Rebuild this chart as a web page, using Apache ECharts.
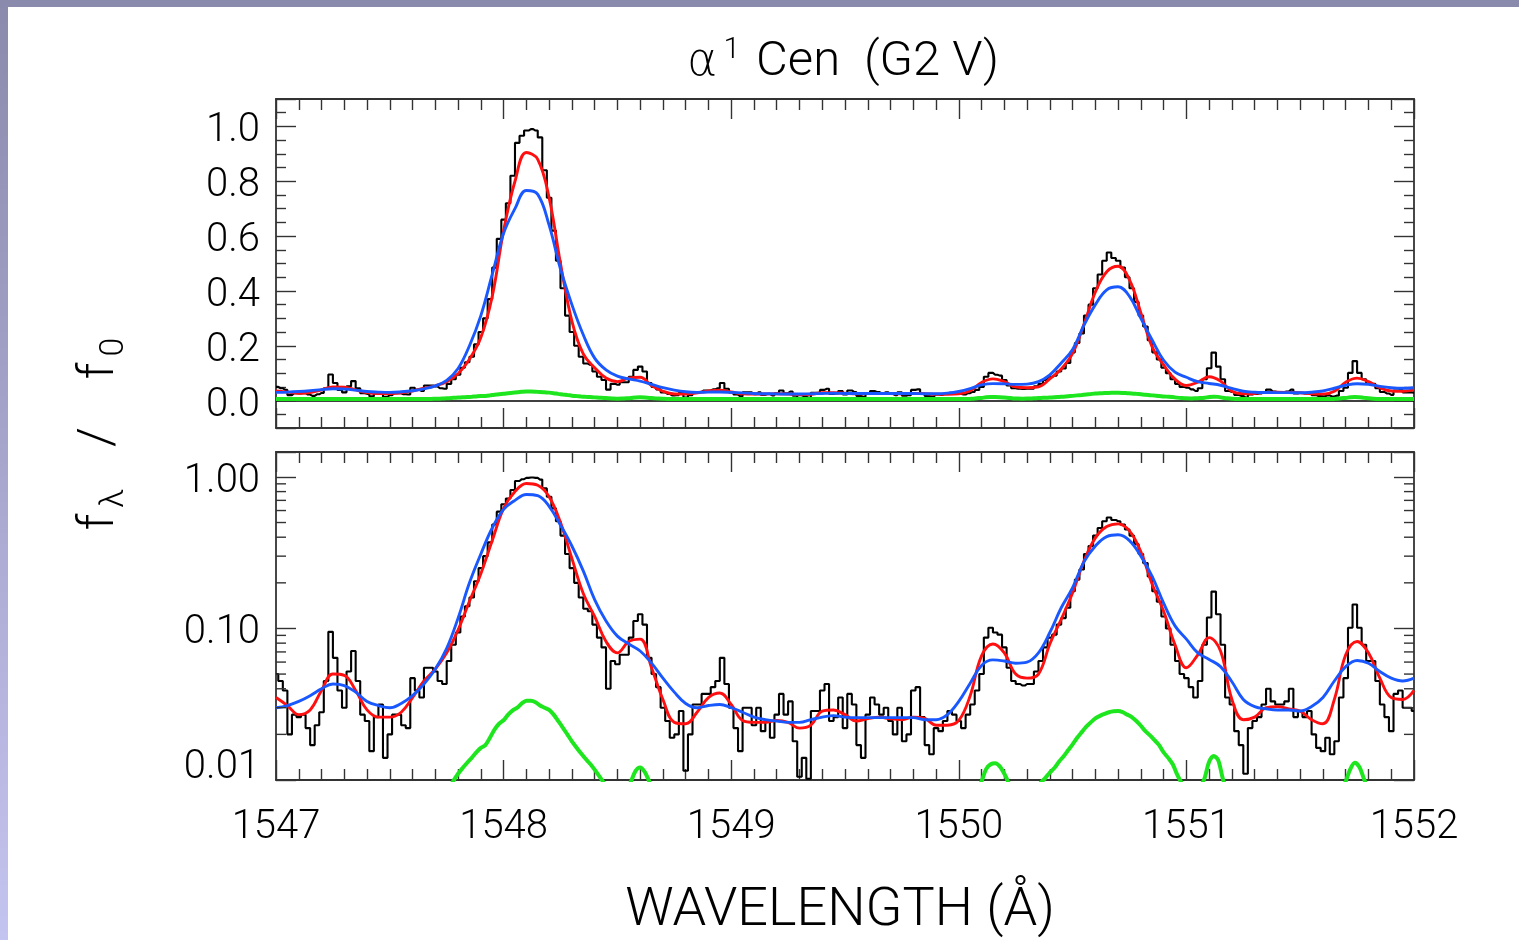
<!DOCTYPE html>
<html><head><meta charset="utf-8">
<script src="https://cdn.jsdelivr.net/npm/echarts@6/dist/echarts.min.js"></script>
<style>
html,body{margin:0;padding:0;width:1519px;height:940px;overflow:hidden;background:#fff;}
#chart{position:absolute;left:0;top:0;width:1519px;height:940px;}
#topbar{position:absolute;left:0;top:0;width:1519px;height:7px;background:#8a8aac;}
#leftbar{position:absolute;left:0;top:0;width:8px;height:940px;background:linear-gradient(#8a8aac,#c4c4f0);}
</style></head>
<body>
<div id="chart"></div><div id="topbar"></div><div id="leftbar"></div>
<script>
// ---------------- DATA ----------------
// Observed spectrum (black), sampled every 0.02 A from 1547.00 to 1552.00
const black = [
  0.050,0.045,0.039,0.020,0.027,0.026,0.027,0.022,0.017,0.023,   // 1547.00
  0.028,0.045,0.095,0.064,0.039,0.030,0.052,0.071,0.045,0.027,   // 1547.20
  0.0245,0.0155,0.026,0.0315,0.014,0.020,0.027,0.027,0.023,0.022,// 1547.40
  0.047,0.039,0.035,0.055,0.055,0.052,0.045,0.043,0.061,0.078,   // 1547.60
  0.094,0.12,0.14,0.16,0.205,0.25,0.30,0.37,0.485,0.59,          // 1547.80
  0.66,0.72,0.82,0.94,0.966,0.985,0.99,0.985,0.96,0.84,          // 1548.00
  0.74,0.62,0.51,0.41,0.31,0.25,0.20,0.16,0.135,0.13,            // 1548.20
  0.106,0.087,0.075,0.04,0.061,0.058,0.067,0.067,0.087,0.112,    // 1548.40
  0.124,0.106,0.064,0.050,0.041,0.030,0.0245,0.019,0.020,0.0285, // 1548.60
  0.0115,0.020,0.0315,0.0315,0.037,0.037,0.041,0.045,0.064,0.043,// 1548.80
  0.030,0.022,0.0155,0.030,0.030,0.023,0.030,0.021,0.0245,0.019, // 1549.00
  0.027,0.037,0.027,0.033,0.018,0.0105,0.014,0.0102,0.0285,0.0285,// 1549.20
  0.039,0.043,0.0245,0.026,0.035,0.022,0.037,0.0315,0.017,0.014, // 1549.40
  0.027,0.035,0.0315,0.027,0.030,0.0245,0.020,0.030,0.018,0.020, // 1549.60
  0.039,0.041,0.026,0.017,0.0148,0.022,0.021,0.0245,0.0285,0.027,// 1549.80
  0.0245,0.022,0.027,0.0315,0.039,0.050,0.087,0.101,0.094,0.091, // 1550.00
  0.075,0.055,0.045,0.043,0.042,0.043,0.043,0.052,0.061,0.075,   // 1550.20
  0.087,0.091,0.106,0.117,0.137,0.176,0.21,0.245,0.31,0.35,      // 1550.40
  0.41,0.46,0.51,0.54,0.52,0.51,0.485,0.45,0.41,0.36,            // 1550.60
  0.31,0.27,0.22,0.176,0.15,0.12,0.10,0.078,0.061,0.050,         // 1550.80
  0.047,0.041,0.035,0.045,0.078,0.118,0.175,0.124,0.078,0.035,   // 1551.00
  0.0315,0.021,0.017,0.011,0.022,0.0245,0.026,0.0315,0.040,0.033,// 1551.20
  0.0315,0.0315,0.033,0.040,0.026,0.0285,0.026,0.0285,0.020,0.0163,// 1551.40
  0.0155,0.019,0.0148,0.018,0.035,0.047,0.101,0.144,0.101,0.078, // 1551.60
  0.061,0.061,0.045,0.0315,0.026,0.021,0.037,0.039,0.030,0.030,  // 1551.80
  0.0285                                                          // 1552.00
];
// Narrow component (green), sampled every 0.02 A
const green = [
  0.006,0.006,0.006,0.006,0.006,0.006,0.006,0.006,0.006,0.006,   // 1547.00
  0.006,0.006,0.006,0.006,0.006,0.006,0.006,0.006,0.006,0.006,   // 1547.20
  0.006,0.006,0.006,0.006,0.006,0.006,0.006,0.006,0.006,0.006,   // 1547.40
  0.006,0.006,0.006,0.006,0.006,0.0065,0.007,0.0078,0.0088,0.0099,// 1547.60
  0.011,0.012,0.013,0.014,0.0152,0.0163,0.017,0.019,0.0215,0.0235,// 1547.80
  0.0248,0.027,0.0288,0.030,0.032,0.0333,0.0333,0.0326,0.031,0.030,// 1548.00
  0.029,0.027,0.0245,0.0222,0.020,0.018,0.0164,0.015,0.0138,0.0128,// 1548.20
  0.0117,0.0106,0.0096,0.0085,0.0075,0.007,0.0075,0.0085,0.0098,0.0115,// 1548.40
  0.0121,0.0113,0.0098,0.0085,0.0072,0.0065,0.006,0.006,0.006,0.006,// 1548.60
  0.006,0.006,0.006,0.006,0.006,0.006,0.006,0.006,0.006,0.006,   // 1548.80
  0.006,0.006,0.006,0.006,0.006,0.006,0.006,0.006,0.006,0.006,   // 1549.00
  0.006,0.006,0.006,0.006,0.006,0.006,0.006,0.006,0.006,0.006,   // 1549.20
  0.006,0.006,0.006,0.006,0.006,0.006,0.006,0.006,0.006,0.006,   // 1549.40
  0.006,0.006,0.006,0.006,0.006,0.006,0.006,0.006,0.006,0.006,   // 1549.60
  0.006,0.006,0.006,0.006,0.006,0.006,0.006,0.006,0.006,0.006,   // 1549.80
  0.006,0.006,0.006,0.007,0.0085,0.0098,0.0118,0.0127,0.0129,0.0123,// 1550.00
  0.011,0.0095,0.008,0.0072,0.007,0.0072,0.008,0.0088,0.0096,0.0103,// 1550.20
  0.0112,0.012,0.0132,0.0143,0.0157,0.0172,0.019,0.0207,0.0225,0.024,// 1550.40
  0.0255,0.0265,0.0273,0.028,0.0284,0.0285,0.028,0.027,0.026,0.0245,// 1550.60
  0.0228,0.021,0.0197,0.0183,0.017,0.0152,0.014,0.0127,0.0108,0.0095,// 1550.80
  0.0085,0.008,0.0082,0.009,0.0103,0.0132,0.0144,0.0135,0.0102,0.0085,// 1551.00
  0.007,0.006,0.006,0.006,0.006,0.006,0.006,0.006,0.006,0.006,   // 1551.20
  0.006,0.006,0.006,0.006,0.006,0.006,0.006,0.006,0.006,0.006,   // 1551.40
  0.006,0.006,0.006,0.007,0.0085,0.0098,0.0118,0.013,0.0122,0.0102,// 1551.60
  0.0085,0.007,0.006,0.006,0.006,0.006,0.006,0.006,0.006,0.006,  // 1551.80
  0.006                                                           // 1552.00
];
// Model fits, sampled every 0.05 A from 1547.00 to 1552.00
const red = [
  0.035,0.031,0.027,0.029,0.039,0.050,0.049,0.039,0.029,0.026,   // 1547.00
  0.026,0.028,0.035,0.045,0.054,0.069,0.098,0.151,0.23,0.38,     // 1547.50
  0.62,0.80,0.905,0.88,0.74,0.50,0.29,0.17,0.12,0.082,           // 1548.00
  0.069,0.082,0.085,0.055,0.034,0.024,0.0235,0.028,0.035,0.0375, // 1548.50
  0.0315,0.0247,0.024,0.024,0.0247,0.024,0.022,0.023,0.0285,0.029,// 1549.00
  0.027,0.0245,0.0254,0.026,0.0253,0.025,0.026,0.0255,0.023,0.023,// 1549.50
  0.0247,0.036,0.066,0.079,0.069,0.050,0.047,0.050,0.079,0.115,  // 1550.00
  0.172,0.278,0.396,0.47,0.49,0.44,0.32,0.195,0.13,0.078,        // 1550.50
  0.055,0.067,0.087,0.071,0.034,0.025,0.026,0.030,0.0305,0.0295, // 1551.00
  0.0285,0.025,0.0235,0.034,0.067,0.082,0.069,0.047,0.035,0.034, // 1551.50
  0.039                                                           // 1552.00
];
const blue = [
  0.030,0.031,0.033,0.036,0.040,0.043,0.042,0.038,0.033,0.031,   // 1547.00
  0.030,0.032,0.036,0.043,0.054,0.074,0.117,0.20,0.31,0.46,      // 1547.50
  0.61,0.70,0.766,0.752,0.64,0.48,0.35,0.24,0.155,0.112,         // 1548.00
  0.089,0.079,0.071,0.059,0.047,0.038,0.032,0.030,0.031,0.0315,  // 1548.50
  0.030,0.028,0.026,0.025,0.0245,0.024,0.024,0.025,0.026,0.0266, // 1549.00
  0.026,0.0258,0.0258,0.0258,0.0258,0.0258,0.0258,0.025,0.025,0.027,// 1549.50
  0.033,0.0435,0.057,0.062,0.061,0.059,0.060,0.069,0.094,0.137,  // 1550.00
  0.186,0.275,0.35,0.404,0.415,0.38,0.30,0.22,0.147,0.104,       // 1550.50
  0.085,0.069,0.0625,0.056,0.0445,0.034,0.0305,0.0295,0.029,0.029,// 1551.00
  0.0285,0.0305,0.035,0.045,0.056,0.0615,0.059,0.052,0.047,0.045,// 1551.50
  0.047                                                           // 1552.00
];
const fineStart = 1547, fineStep = 0.02;
const coarseStart = 1547, coarseStep = 0.05;
// Tick labels
const xTickLabels = ['1547','1548','1549','1550','1551','1552'];
const linYTickLabels = ['0.0','0.2','0.4','0.6','0.8','1.0'];
const logYTickLabels = ['0.01','0.10','1.00'];
const logMinorTicks = [0.02,0.03,0.04,0.05,0.06,0.07,0.08,0.09,0.2,0.3,0.4,0.5,0.6,0.7,0.8,0.9];

// ---------------- CHART ----------------
const FONT = 'Roboto, "DejaVu Sans", sans-serif';
const FW = 300;
const AX = '#333';
const fineX = black.map((_, i) => +(fineStart + i * fineStep).toFixed(2));
const coarseX = red.map((_, i) => +(coarseStart + i * coarseStep).toFixed(2));
const pair = (xs, ys) => xs.map((x, i) => [x, ys[i]]);

function matchLabel(list, v) {
  for (const s of list) { if (Math.abs(parseFloat(s) - v) < 1e-6 * Math.max(1, Math.abs(v))) return s; }
  return '';
}
const yRich = {
  sp: { fontSize: 1, lineHeight: 50 },
  v: { fontSize: 40, fontFamily: FONT, fontWeight: FW, color: '#000', lineHeight: 40, verticalAlign: 'bottom' },
  sp2: { fontSize: 1, lineHeight: 64 },
  u: { fontSize: 40, fontFamily: FONT, fontWeight: FW, color: '#000', lineHeight: 40, verticalAlign: 'top' }
};

function xAxisDef(gridIndex, position, showLabels) {
  return {
    type: 'value', gridIndex, position, min: 1547, max: 1552, interval: 1,
    axisLine: { show: true, onZero: false, lineStyle: { color: AX, width: 1.8 } },
    axisTick: { show: true, inside: true, length: 20, lineStyle: { color: AX, width: 1.4 } },
    minorTick: { show: true, splitNumber: 10, length: 11, lineStyle: { color: AX, width: 1.4 } },
    splitLine: { show: false }, minorSplitLine: { show: false },
    axisLabel: { show: showLabels, margin: 28, fontSize: 40, fontFamily: FONT, fontWeight: FW, color: '#000',
      formatter: v => matchLabel(xTickLabels, v) }
  };
}
function linYDef(position, showLabels) {
  return {
    type: 'value', gridIndex: 0, position, min: -0.1, max: 1.1, minInterval: 0.2, maxInterval: 0.2, splitNumber: 6,
    axisLine: { show: true, onZero: false, lineStyle: { color: AX, width: 1.8 } },
    axisTick: { show: true, inside: true, length: 20, lineStyle: { color: AX, width: 1.4 } },
    minorTick: { show: true, splitNumber: 4, length: 10, lineStyle: { color: AX, width: 1.4 } },
    splitLine: { show: false }, minorSplitLine: { show: false },
    axisLabel: { show: showLabels, margin: 16, rich: yRich,
      formatter: v => { const s = matchLabel(linYTickLabels, v); return s ? '{sp| }{v|' + s + '}' : ''; } }
  };
}
function logYDef(position, showLabels) {
  return {
    type: 'log', logBase: 10, gridIndex: 1, position, min: 0.01, max: 1.46,
    axisLine: { show: true, onZero: false, lineStyle: { color: AX, width: 1.8 } },
    axisTick: { show: true, inside: true, length: 20, lineStyle: { color: AX, width: 1.4 } },
    minorTick: { show: false },
    splitLine: { show: false }, minorSplitLine: { show: false },
    axisLabel: { show: showLabels, margin: 16, rich: yRich,
      formatter: v => {
        const s = matchLabel(logYTickLabels, v);
        if (!s) return '';
        return s === logYTickLabels[0] ? '{sp2| }{u|' + s + '}' : '{sp| }{v|' + s + '}';
      } }
  };
}

function panelSeries(xi, yi, withZero) {
  const s = [
    { type: 'line', xAxisIndex: xi, yAxisIndex: yi, data: pair(fineX, black), step: 'middle', symbol: 'none',
      lineStyle: { color: '#000', width: 2.1 }, z: 2, silent: true },
    { type: 'line', xAxisIndex: xi, yAxisIndex: yi, data: pair(coarseX, red), smooth: 0.4, symbol: 'none',
      lineStyle: { color: '#ff0f0f', width: 2.9 }, z: 3, silent: true },
    { type: 'line', xAxisIndex: xi, yAxisIndex: yi, data: pair(coarseX, blue), smooth: 0.4, symbol: 'none',
      lineStyle: { color: '#1a58ff', width: 2.9 }, z: 4, silent: true },
    { type: 'line', xAxisIndex: xi, yAxisIndex: yi, data: pair(fineX, green), smooth: 0.3, symbol: 'none',
      lineStyle: { color: '#1ee61e', width: 4 }, z: 5, silent: true }
  ];
  if (withZero) {
    s[0].markLine = { silent: true, symbol: 'none', label: { show: false },
      lineStyle: { color: '#000', width: 1.5, type: 'solid' }, data: [{ yAxis: 0 }] };
  }
  return s;
}

const chart = echarts.init(document.getElementById('chart'), null, { renderer: 'canvas' });
chart.setOption({
  animation: false,
  backgroundColor: '#fff',
  grid: [
    { left: 276, top: 99, width: 1138, height: 329, containLabel: false },
    { left: 276, top: 452, width: 1138, height: 328, containLabel: false }
  ],
  xAxis: [ xAxisDef(0, 'bottom', false), xAxisDef(0, 'top', false), xAxisDef(1, 'bottom', true), xAxisDef(1, 'top', false) ],
  yAxis: [ linYDef('left', true), linYDef('right', false), logYDef('left', true), logYDef('right', false) ],
  series: [
    ...panelSeries(0, 0, true),
    ...panelSeries(2, 2, false),
    {
      type: 'custom', xAxisIndex: 2, yAxisIndex: 2, silent: true, z: 10,
      data: logMinorTicks.map(v => [1547, v]),
      renderItem: function (params, api) {
        const p = api.coord([api.value(0), api.value(1)]);
        const cs = params.coordSys;
        const L = 10;
        const st = { stroke: AX, lineWidth: 1.4 };
        return { type: 'group', children: [
          { type: 'line', shape: { x1: cs.x, y1: p[1], x2: cs.x + L, y2: p[1] }, style: st },
          { type: 'line', shape: { x1: cs.x + cs.width - L, y1: p[1], x2: cs.x + cs.width, y2: p[1] }, style: st }
        ] };
      }
    }
  ],
  graphic: [
    { type: 'text', x: 843, y: 63, silent: true,
      style: { text: '{al|α}{sup|1}{a| Cen  (G2 V)}', align: 'center', verticalAlign: 'middle',
        rich: {
          al: { fontSize: 46, fontFamily: '"DejaVu Sans", sans-serif', fontWeight: 200, fill: '#000', lineHeight: 56, verticalAlign: 'middle', padding: [0, 2, 0, 0] },
          a: { fontSize: 49, fontFamily: FONT, fontWeight: FW, fill: '#000', lineHeight: 56, verticalAlign: 'middle' },
          sup: { fontSize: 30, fontFamily: FONT, fontWeight: FW, fill: '#000', lineHeight: 30, verticalAlign: 'top', padding: [0, 4, 0, 4] }
        } } },
    { type: 'text', x: 100, y: 437, rotation: Math.PI / 2, silent: true,
      style: { text: '{f|f}{s|λ}{g|/}{f|f}{s|0}', align: 'center', verticalAlign: 'middle',
        rich: {
          f: { fontSize: 50, fontFamily: FONT, fontWeight: FW, fill: '#000', lineHeight: 62, verticalAlign: 'middle', padding: [0, 6, 0, 6] },
          s: { fontSize: 34, fontFamily: FONT, fontWeight: FW, fill: '#000', lineHeight: 34, verticalAlign: 'bottom' },
          g: { fontSize: 50, fontFamily: FONT, fontWeight: FW, fill: '#000', lineHeight: 62, verticalAlign: 'middle', padding: [0, 42, 0, 42] }
        } } },
    { type: 'text', x: 840, y: 911, silent: true,
      style: { text: 'WAVELENGTH (Å)', align: 'center', verticalAlign: 'middle',
        fontSize: 54, fontFamily: FONT, fontWeight: FW, fill: '#000' } }
  ]
});
</script>
</body></html>
